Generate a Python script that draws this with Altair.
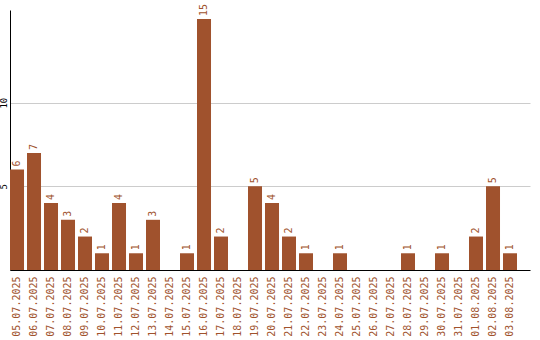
import altair as alt
import pandas as pd

dates = ["05.07.2025", "06.07.2025", "07.07.2025", "08.07.2025", "09.07.2025",
         "10.07.2025", "11.07.2025", "12.07.2025", "13.07.2025", "14.07.2025",
         "15.07.2025", "16.07.2025", "17.07.2025", "18.07.2025", "19.07.2025",
         "20.07.2025", "21.07.2025", "22.07.2025", "23.07.2025", "24.07.2025",
         "25.07.2025", "26.07.2025", "27.07.2025", "28.07.2025", "29.07.2025",
         "30.07.2025", "31.07.2025", "01.08.2025", "02.08.2025", "03.08.2025"]
counts = [6, 7, 4, 3, 2, 1, 4, 1, 3, 0, 1, 15, 2, 0, 5, 4, 2, 1, 0, 1,
          0, 0, 0, 1, 0, 1, 0, 2, 5, 1]

df = pd.DataFrame({"date": dates, "count": counts})
color = "#A0522D"
font = "DejaVu Sans Mono"

x_enc = alt.X("date:N", sort=None, title=None,
              scale=alt.Scale(paddingInner=0.176, paddingOuter=0.382, align=0),
              axis=alt.Axis(labelAngle=270, labelColor=color, labelFont=font,
                            labelFontSize=10, ticks=False, labelPadding=6,
                            domainColor="black", domainWidth=1, grid=False))
y_enc = alt.Y("count:Q", title=None,
              scale=alt.Scale(domain=[0, 15.54], nice=False),
              axis=alt.Axis(values=[5, 10], labelAngle=270, labelAlign="center",
                            labelBaseline="bottom", labelFont=font, labelFontSize=9,
                            labelColor="black", ticks=False, labelPadding=2,
                            domainColor="black", domainWidth=1,
                            gridColor="#cccccc", gridWidth=1))

bars = alt.Chart(df).mark_bar(color=color).encode(x=x_enc, y=y_enc)
text = alt.Chart(df).transform_filter("datum.count > 0").mark_text(
    angle=270, align="left", baseline="middle", dx=3, color=color,
    font=font, fontSize=10).encode(x=x_enc, y=y_enc, text="count:Q")

chart = (bars + text).properties(
    width=520, height=260,
    autosize=alt.AutoSizeParams(type="none"),
    padding={"left": 10, "top": 10, "right": 10, "bottom": 70},
).configure_view(stroke=None)

chart.save("out.html", embed_options={"renderer": "svg", "actions": False})
